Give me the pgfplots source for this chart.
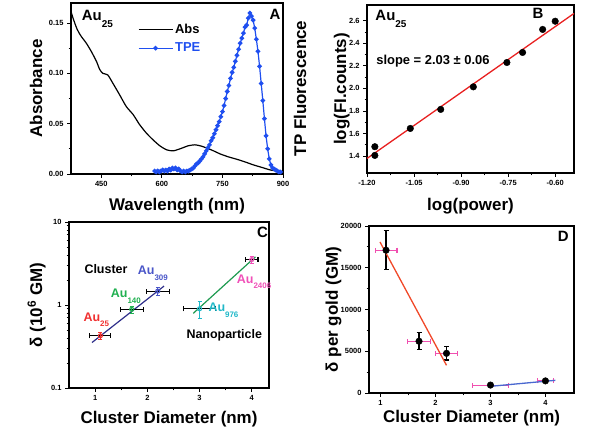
\documentclass[border=0pt]{standalone}
\usepackage{fontspec}
\setmainfont{Liberation Sans}
\usepackage{pgfplots}
\pgfplotsset{compat=1.18}

\definecolor{tpeblue}{HTML}{1F4FF0}
\definecolor{fitred}{HTML}{E82020}
\definecolor{c25}{HTML}{F03030}
\definecolor{c140}{HTML}{20B050}
\definecolor{c309}{HTML}{4A56C8}
\definecolor{c976}{HTML}{20B8C8}
\definecolor{c2406}{HTML}{F050B8}
\definecolor{navyline}{HTML}{2E2E8A}
\definecolor{greenline}{HTML}{1E9A50}
\definecolor{dred}{HTML}{F04828}
\definecolor{dpink}{HTML}{F050B0}
\definecolor{dblue}{HTML}{4A68D0}

\newcommand\tk{\bfseries\fontsize{7.5}{8}\selectfont}
\newcommand\lb{\bfseries\fontsize{17}{18}\selectfont}
\newcommand\sub[2]{\raisebox{-0.45em}{\fontsize{#1}{#1}\selectfont #2}}

\pgfplotsset{
  panel/.style={
    scale only axis, anchor=south west, clip=false,
    tick align=outside, tick pos=left,
    axis line style={line width=1.3bp},
    every tick/.style={line width=0.9bp, black},
    major tick length=4bp, minor tick length=2.5bp,
    minor x tick num=1, minor y tick num=1,
    tick label style={font=\tk},
    scaled ticks=false,
    /pgf/number format/assume math mode=true,
  },
  xl/.style={every axis x label/.style={at={(axis description cs:0.5,#1)}, anchor=center, font=\lb}},
  yl/.style={every axis y label/.style={at={(axis description cs:#1,0.5)}, rotate=90, anchor=center, font=\lb}},
}

\begin{document}
\begin{tikzpicture}[x=1bp,y=1bp]
\path[use as bounding box] (0,0) rectangle (600,439);

% ---------------- A ----------------
\begin{axis}[panel,
  at={(71bp,265bp)}, width=212bp, height=171bp,
  xmin=375, xmax=900, ymin=0, ymax=0.17,
  xtick={450,600,750,900}, xticklabels={450,600,750,900},
  ytick={0,0.05,0.10,0.15}, yticklabels={0.00,0.05,0.10,0.15},
  xlabel={Wavelength (nm)}, ylabel={Absorbance},
  xl=-0.187, yl=-0.165,
  legend style={draw=none, fill=none, at={(axis description cs:0.31,0.895)}, anchor=north west,
    font=\bfseries\fontsize{13}{14}\selectfont, inner sep=1bp, row sep=4bp},
  legend cell align=left,
  legend image code/.code={\draw[mark repeat=2,mark phase=2,#1] plot coordinates {(0bp,0bp) (17bp,0bp) (34bp,0bp)};},
]
\addplot[black, line width=1.2bp, smooth, tension=0.4] coordinates {
(374,0.163) (380,0.155) (390,0.144) (400,0.137) (413,0.130) (425,0.122)
(438,0.112) (446,0.104) (454,0.100) (466,0.0985) (479,0.090) (495,0.079)
(512,0.067) (529,0.059) (545,0.049) (562,0.0405) (578,0.034) (595,0.028)
(612,0.024) (628,0.023) (645,0.025) (665,0.028) (682,0.029) (697,0.0278)
(711,0.0258) (728,0.023) (744,0.020) (765,0.017) (786,0.0146) (806,0.012)
(827,0.009) (848,0.0065) (869,0.004) (900,0.002)
};
\addlegendentry{Abs}
\addplot[tpeblue, line width=1.2bp, mark=*, mark size=1.7bp] coordinates {
(582,0.003) (586,0.002) (590,0.003) (594,0.002) (598,0.003) (602,0.004)
(606,0.003) (610,0.004) (614,0.003) (618,0.005) (622,0.004) (626,0.006)
(630,0.005) (634,0.006) (638,0.004) (642,0.005) (646,0.003) (650,0.002)
(654,0.003) (658,0.002) (662,0.003) (666,0.003) (670,0.004) (674,0.005)
(678,0.006) (682,0.008) (686,0.010) (690,0.011) (694,0.013) (698,0.015)
(702,0.017) (706,0.020) (710,0.023) (714,0.026) (718,0.029) (722,0.033)
(726,0.036) (730,0.040) (734,0.044) (738,0.048) (742,0.052) (746,0.057)
(750,0.062) (754,0.068) (758,0.075) (762,0.082) (766,0.088) (770,0.095)
(774,0.101) (778,0.106) (782,0.112) (786,0.118) (790,0.124) (794,0.130)
(798,0.135) (802,0.140) (806,0.146) (810,0.148) (814,0.155) (818,0.160)
(822,0.157) (826,0.153) (830,0.145) (834,0.134) (838,0.122) (842,0.107)
(846,0.090) (850,0.073) (854,0.055) (858,0.038) (862,0.025) (866,0.015)
(870,0.009) (874,0.006) (878,0.005) (882,0.004) (886,0.003) (890,0.002)
(894,0.002)
};
\addlegendentry{\textcolor{tpeblue}{TPE}}
\node[anchor=base west, font=\bfseries\fontsize{15}{15}\selectfont] at (axis description cs:0.035,0.895) {Au\sub{10}{25}};
\node[font=\bfseries\fontsize{15}{15}\selectfont] at (axis description cs:0.962,0.936) {A};
\node[rotate=90, font=\lb] at (axis description cs:1.08,0.5) {TP Fluorescence};
\end{axis}

% ---------------- B ----------------
\begin{axis}[panel,
  at={(367bp,266bp)}, width=207bp, height=168bp,
  xmin=-1.20, xmax=-0.54, ymin=1.25, ymax=2.74,
  xtick={-1.20,-1.05,-0.90,-0.75,-0.60}, xticklabels={-1.20,-1.05,-0.90,-0.75,-0.60},
  ytick={1.4,1.6,1.8,2.0,2.2,2.4,2.6}, yticklabels={1.4,1.6,1.8,2.0,2.2,2.4,2.6},
  xlabel={log(power)}, ylabel={log(FI.counts)},
  xl=-0.196, yl=-0.122,
]
\addplot[fitred, line width=1.3bp] coordinates {(-1.20,1.379) (-0.54,2.665)};
\addplot[only marks, mark=*, black, mark size=3.3bp] coordinates {
(-1.175,1.483) (-1.175,1.406) (-1.062,1.645) (-0.965,1.814) (-0.861,2.014)
(-0.754,2.230) (-0.704,2.319) (-0.640,2.523) (-0.600,2.596)
};
\node[anchor=base west, font=\bfseries\fontsize{15}{15}\selectfont] at (axis description cs:0.024,0.905) {Au\sub{10}{25}};
\node[font=\bfseries\fontsize{15}{15}\selectfont] at (axis description cs:0.826,0.952) {B};
\node[anchor=west, font=\bfseries\fontsize{13}{13}\selectfont] at (axis description cs:0.028,0.667) {slope = 2.03 ± 0.06};
\end{axis}

% ---------------- C ----------------
\begin{axis}[panel,
  at={(69bp,51bp)}, width=200bp, height=166bp,
  xmin=0.5, xmax=4.33, ymode=log, ymin=0.1, ymax=10,
  xtick={1,2,3,4}, xticklabels={1,2,3,4},
  ytick={0.1,1,10}, yticklabels={0.1,1,10},
  xlabel={Cluster Diameter (nm)}, ylabel={δ (10\textsuperscript{6} GM)},
  xl=-0.187, yl=-0.1615,
]
\addplot[navyline, line width=1.2bp] coordinates {(0.94,0.353) (2.32,1.69)};
\addplot[greenline, line width=1.2bp] coordinates {(2.88,0.794) (4.07,3.80)};
% horizontal error bars (black)
\addplot[draw=none, mark=none, error bars/.cd, x dir=both, x explicit,
  error bar style={black, line width=1.1bp}, error mark options={rotate=90, black, mark size=2.5bp, line width=1.1bp}]
  coordinates {
(1.1,0.425) +- (0.2,0)
(1.7,0.887) +- (0.22,0)
(2.2,1.47) +- (0.22,0)
(3.0,0.90) +- (0.3,0)
(4.0,3.53) +- (0.12,0)
};
\addplot[c25, mark=o, line width=1.1bp, mark size=2bp, error bars/.cd, y dir=both, y explicit,
  error bar style={c25, line width=1bp}, error mark options={rotate=90, c25, mark size=2bp}]
  coordinates {(1.1,0.425) +- (0,0.04)};
\addplot[c140, mark=o, line width=1.1bp, mark size=2bp, error bars/.cd, y dir=both, y explicit,
  error bar style={c140, line width=1bp}, error mark options={rotate=90, c140, mark size=2bp}]
  coordinates {(1.7,0.887) +- (0,0.08)};
\addplot[c309, mark=o, line width=1.1bp, mark size=2bp, error bars/.cd, y dir=both, y explicit,
  error bar style={c309, line width=1bp}, error mark options={rotate=90, c309, mark size=2bp}]
  coordinates {(2.2,1.47) +- (0,0.15)};
\addplot[c976, mark=o, line width=1.1bp, mark size=2bp, error bars/.cd, y dir=both, y explicit,
  error bar style={c976, line width=1bp}, error mark options={rotate=90, c976, mark size=2bp}]
  coordinates {(3.0,0.90) +- (0,0.2)};
\addplot[c2406, mark=o, line width=1.1bp, mark size=2bp, error bars/.cd, y dir=both, y explicit,
  error bar style={c2406, line width=1bp}, error mark options={rotate=90, c2406, mark size=2bp}]
  coordinates {(4.0,3.53) +- (0,0.35)};
\node[font=\bfseries\fontsize{15}{15}\selectfont] at (axis description cs:0.967,0.94) {C};
\node[anchor=west, font=\bfseries\fontsize{12.5}{13}\selectfont] at (axis description cs:0.06,0.715) {Cluster};
\node[anchor=west, font=\bfseries\fontsize{12.5}{13}\selectfont] at (axis description cs:0.57,0.319) {Nanoparticle};
\node[anchor=west, text=c309, font=\bfseries\fontsize{12.5}{13}\selectfont] at (axis description cs:0.327,0.69) {Au\sub{8}{309}};
\node[anchor=west, text=c140, font=\bfseries\fontsize{12.5}{13}\selectfont] at (axis description cs:0.192,0.554) {Au\sub{8}{140}};
\node[anchor=west, text=c25, font=\bfseries\fontsize{12.5}{13}\selectfont] at (axis description cs:0.055,0.41) {Au\sub{8}{25}};
\node[anchor=west, text=c976, font=\bfseries\fontsize{12.5}{13}\selectfont] at (axis description cs:0.68,0.47) {Au\sub{8}{976}};
\node[anchor=west, text=c2406, font=\bfseries\fontsize{12.5}{13}\selectfont] at (axis description cs:0.822,0.64) {Au\sub{8}{2406}};
\end{axis}

% ---------------- D ----------------
\begin{axis}[panel,
  at={(369bp,46bp)}, width=205bp, height=167bp,
  xmin=0.79, xmax=4.52, ymin=0, ymax=20000,
  xtick={1,2,3,4}, xticklabels={1,2,3,4},
  ytick={0,5000,10000,15000,20000}, yticklabels={0,5000,10000,15000,20000},
  xlabel={Cluster Diameter (nm)}, ylabel={δ per gold (GM)},
  xl=-0.15, yl=-0.173,
]
\addplot[draw=none, mark=none, error bars/.cd, x dir=both, x explicit,
  error bar style={dpink, line width=1.1bp}, error mark options={rotate=90, dpink, mark size=2.5bp, line width=1.1bp}]
  coordinates {
(1.1,17100) +- (0.2,0)
(1.7,6200) +- (0.21,0)
(2.2,4750) +- (0.2,0)
(3.0,950) +- (0.32,0)
(4.0,1450) +- (0.15,0)
};
\addplot[only marks, mark=*, black, mark size=3.3bp, error bars/.cd, y dir=both, y explicit,
  error bar style={black, line width=1.1bp}, error mark options={rotate=90, black, mark size=2.5bp, line width=1.1bp}]
  coordinates {
(1.1,17100) +- (0,2350)
(1.7,6200) +- (0,1000)
(2.2,4750) +- (0,800)
(3.0,950) +- (0,0)
(4.0,1450) +- (0,0)
};
\addplot[dred, line width=1.3bp] coordinates {(0.99,18084) (2.2,3313)};
\addplot[dblue, line width=1.3bp] coordinates {(3.0,800) (4.18,1517)};
\node[font=\bfseries\fontsize{15}{15}\selectfont] at (axis description cs:0.948,0.935) {D};
\end{axis}
\end{tikzpicture}
\end{document}
